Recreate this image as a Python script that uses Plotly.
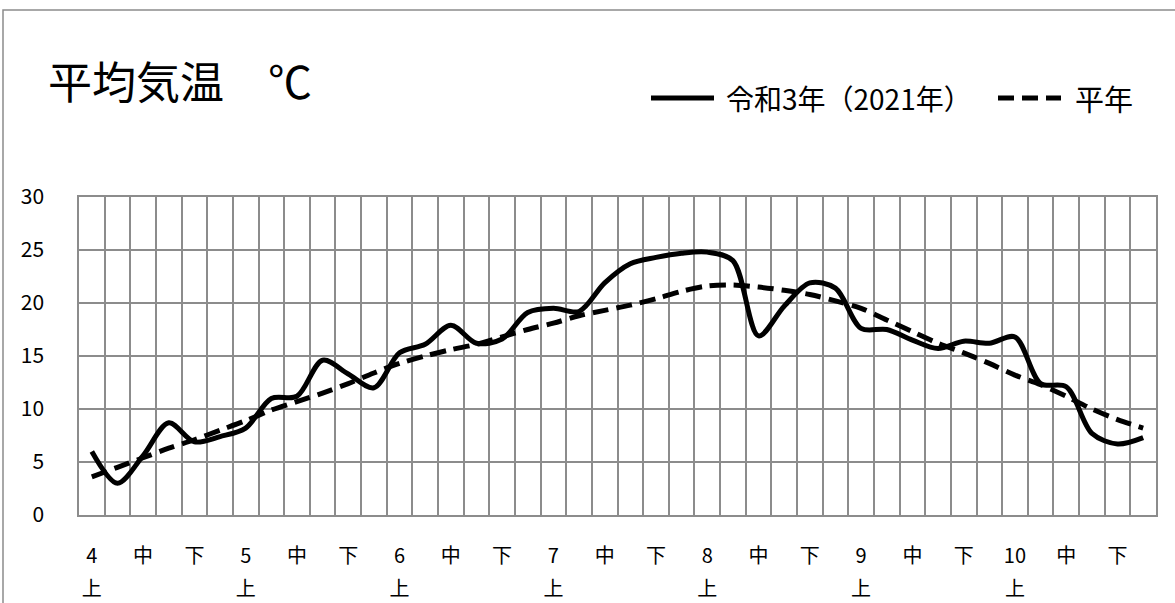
import plotly.graph_objects as go

# 半旬ごとの平均気温（4月上旬〜10月下旬、42区間）
temp_2021 = [6.0, 3.0, 5.6, 8.7, 6.9, 7.4, 8.2, 11.0, 11.2, 14.6,
             13.3, 12.0, 15.3, 16.1, 17.9, 16.2, 16.6, 19.1, 19.5, 19.2,
             21.9, 23.7, 24.3, 24.7, 24.8, 24.0, 16.9, 19.7, 21.9, 21.4,
             17.6, 17.5, 16.5, 15.7, 16.4, 16.2, 16.8, 12.4, 12.1, 7.7,
             6.7, 7.3]
temp_normal = [3.6, 4.5, 5.4, 6.3, 7.1, 8.0, 8.9, 9.9, 10.7, 11.5,
               12.4, 13.4, 14.3, 15.0, 15.6, 16.1, 16.8, 17.5, 18.1, 18.8,
               19.3, 19.8, 20.4, 21.1, 21.6, 21.7, 21.5, 21.2, 20.8, 20.2,
               19.5, 18.4, 17.3, 16.2, 15.3, 14.3, 13.2, 12.3, 11.2, 10.0,
               9.0, 8.2]
tick_row1 = ["4", "中", "下", "5", "中", "下", "6", "中", "下", "7", "中", "下",
             "8", "中", "下", "9", "中", "下", "10", "中", "下"]
tick_row2 = ["上", "上", "上", "上", "上", "上", "上"]
series_names = ["令和3年（2021年）", "平年"]
title_text = "平均気温　℃"
y_ticks = [0, 5, 10, 15, 20, 25, 30]

FONT = "Noto Sans CJK JP"
GRID = "#8c8c8c"
W, H = 1175, 603
PL, PR, PT, PB = 79, 1156, 197, 515  # plot area in pixels

n = len(temp_2021)
xs = list(range(n))


def px(x):
    return (x - PL) / (PR - PL)


def py(y):
    return (PB - y) / (PB - PT)


fig = go.Figure()
fig.add_trace(go.Scatter(x=xs, y=temp_2021, mode="lines", name=series_names[0],
                         line=dict(color="black", width=5, shape="spline", smoothing=0.9),
                         showlegend=False))
fig.add_trace(go.Scatter(x=xs, y=temp_normal, mode="lines", name=series_names[1],
                         line=dict(color="black", width=5, shape="spline", smoothing=0.9,
                                   dash="16px,8px"),
                         showlegend=False))
# carrier trace for the second label row
fig.add_trace(go.Scatter(x=[0], y=[None], xaxis="x2", mode="lines",
                         showlegend=False, hoverinfo="skip"))

xrange = [-0.5, n - 0.5]
fig.update_layout(
    width=W, height=H,
    margin=dict(l=PL, r=W - PR, t=PT, b=H - PB, pad=0, autoexpand=False),
    paper_bgcolor="white", plot_bgcolor="white",
    font=dict(family=FONT, color="black"),
    xaxis=dict(range=xrange, tickmode="array", automargin=False,
               tickvals=[i * 2 for i in range(len(tick_row1))], ticktext=tick_row1,
               tickfont=dict(size=20, family=FONT), ticks="", showgrid=False,
               zeroline=False, showline=True, linecolor=GRID, linewidth=1.5,
               mirror=True, ticklabelstandoff=22,
               minor=dict(tickmode="linear", tick0=-0.5, dtick=1, showgrid=True,
                          gridcolor=GRID, gridwidth=1.5, ticks="")),
    xaxis2=dict(range=xrange, overlaying="x", anchor="y", side="bottom",
                automargin=False,
                tickmode="array", tickvals=[i * 6 for i in range(len(tick_row2))],
                ticktext=tick_row2, tickfont=dict(size=20, family=FONT), ticks="",
                showgrid=False, zeroline=False, showline=False,
                ticklabelstandoff=60),
    yaxis=dict(range=[0, 30], tickmode="array", tickvals=y_ticks, automargin=False,
               tickfont=dict(size=21, family=FONT), ticks="",
               showgrid=True, gridcolor=GRID, gridwidth=1.5, zeroline=False,
               showline=True, linecolor=GRID, linewidth=1.5, mirror=True,
               ticklabelstandoff=29),
    showlegend=False,
)

# outer frame of the chart area
fig.add_shape(type="rect", xref="paper", yref="paper",
              x0=px(3), x1=px(1190), y0=py(620), y1=py(10),
              line=dict(color="#8c8c8c", width=1.5), fillcolor="rgba(0,0,0,0)", layer="below")

# title
fig.add_annotation(xref="paper", yref="paper", x=px(46), y=py(80), xanchor="left",
                   yanchor="middle", text=title_text, showarrow=False,
                   font=dict(size=44, family=FONT, color="black"))

# legend: line samples and labels
leg_y = py(98)
fig.add_shape(type="line", xref="paper", yref="paper", x0=px(651), x1=px(714),
              y0=leg_y, y1=leg_y, line=dict(color="black", width=5))
fig.add_annotation(xref="paper", yref="paper", x=px(724), y=leg_y, xanchor="left",
                   yanchor="middle", text=series_names[0], showarrow=False,
                   font=dict(size=28, family=FONT, color="black"))
fig.add_shape(type="line", xref="paper", yref="paper", x0=px(998), x1=px(1061),
              y0=leg_y, y1=leg_y, line=dict(color="black", width=5, dash="16px,8px"))
fig.add_annotation(xref="paper", yref="paper", x=px(1073), y=leg_y, xanchor="left",
                   yanchor="middle", text=series_names[1], showarrow=False,
                   font=dict(size=29, family=FONT, color="black"))

fig.write_html("out.html")
